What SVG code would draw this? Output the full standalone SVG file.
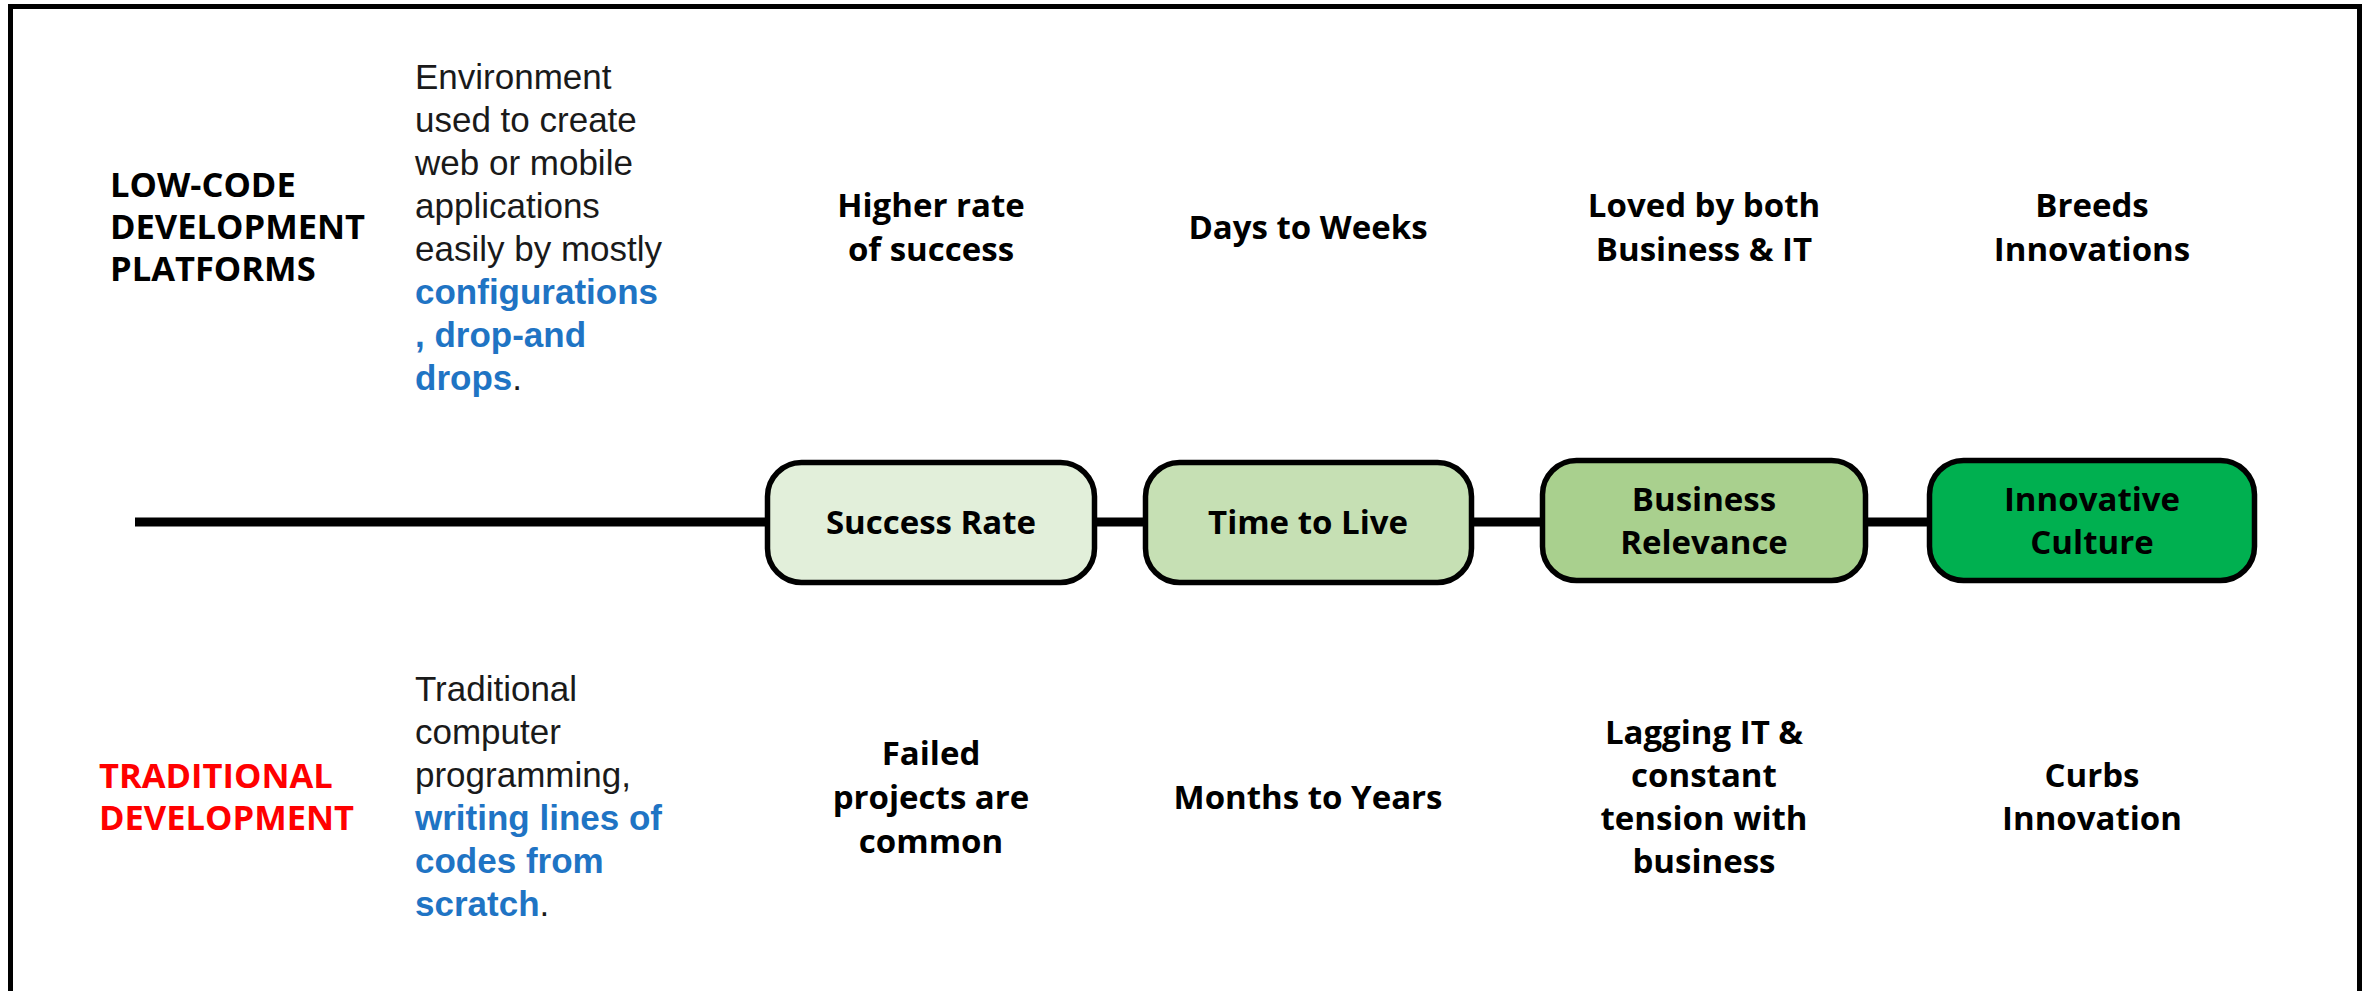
<svg xmlns="http://www.w3.org/2000/svg" width="2374" height="991" viewBox="0 0 2374 991">
  <style>
    .head { font-family: "Open Sans", "Liberation Sans", sans-serif; font-weight: 700; font-size: 34.5px; fill: #000; }
    .lbl { font-family: "Open Sans", "Liberation Sans", sans-serif; font-weight: 700; font-size: 33px; fill: #000; text-anchor: middle; }
    .desc { font-family: "Liberation Sans", Arial, sans-serif; font-size: 35px; fill: #1a1a1a; }
    .hl { fill: #1F74C4; font-weight: 700; }
    .stage { stroke: #000; stroke-width: 5.5; }
  </style>

  <!-- outer frame (open at the bottom edge) -->
  <rect x="10.5" y="6.5" width="2349" height="1010" fill="#fff" stroke="#000" stroke-width="5"/>

  <!-- timeline connectors -->
  <g id="connectors" stroke="#000" stroke-width="9" fill="none">
    <line x1="135" y1="522" x2="767" y2="522"/>
    <line x1="1095" y1="522" x2="1145" y2="522"/>
    <line x1="1471" y1="522" x2="1542" y2="522"/>
    <line x1="1866" y1="522" x2="1929" y2="522"/>
  </g>

  <!-- stages -->
  <g id="stage-success-rate">
    <rect class="stage" x="767.5" y="462.5" width="327" height="120" rx="34" fill="#E2EFDA"/>
    <text class="lbl" x="931" y="534">Success Rate</text>
  </g>
  <g id="stage-time-to-live">
    <rect class="stage" x="1145.5" y="462.5" width="326" height="120" rx="34" fill="#C6E0B4"/>
    <text class="lbl" x="1308" y="534">Time to Live</text>
  </g>
  <g id="stage-business-relevance">
    <rect class="stage" x="1542.5" y="460.5" width="323" height="120" rx="34" fill="#A9D08E"/>
    <text class="lbl" x="1704" y="511">Business</text>
    <text class="lbl" x="1704" y="554">Relevance</text>
  </g>
  <g id="stage-innovative-culture">
    <rect class="stage" x="1929.5" y="460.5" width="325" height="120" rx="34" fill="#00B050"/>
    <text class="lbl" x="2092" y="511">Innovative</text>
    <text class="lbl" x="2092" y="554">Culture</text>
  </g>

  <!-- low-code row -->
  <g id="lowcode-title">
    <text class="head" x="110" y="197">LOW-CODE</text>
    <text class="head" x="110" y="239">DEVELOPMENT</text>
    <text class="head" x="110" y="281">PLATFORMS</text>
  </g>
  <g id="lowcode-desc" class="desc">
    <text x="415" y="89">Environment</text>
    <text x="415" y="132">used to create</text>
    <text x="415" y="175">web or mobile</text>
    <text x="415" y="218">applications</text>
    <text x="415" y="261">easily by mostly</text>
    <text x="415" y="304"><tspan class="hl">configurations</tspan></text>
    <text x="415" y="347"><tspan class="hl">, drop-and</tspan></text>
    <text x="415" y="390"><tspan class="hl">drops</tspan>.</text>
  </g>
  <g id="lowcode-success">
    <text class="lbl" x="931" y="217">Higher rate</text>
    <text class="lbl" x="931" y="261">of success</text>
  </g>
  <g id="lowcode-time">
    <text class="lbl" x="1308" y="239">Days to Weeks</text>
  </g>
  <g id="lowcode-business">
    <text class="lbl" x="1704" y="217">Loved by both</text>
    <text class="lbl" x="1704" y="261">Business &amp; IT</text>
  </g>
  <g id="lowcode-culture">
    <text class="lbl" x="2092" y="217">Breeds</text>
    <text class="lbl" x="2092" y="261">Innovations</text>
  </g>

  <!-- traditional row -->
  <g id="traditional-title">
    <text class="head" x="99" y="788" style="fill:#FF0000">TRADITIONAL</text>
    <text class="head" x="99" y="830" style="fill:#FF0000">DEVELOPMENT</text>
  </g>
  <g id="traditional-desc" class="desc">
    <text x="415" y="701">Traditional</text>
    <text x="415" y="744">computer</text>
    <text x="415" y="787">programming,</text>
    <text x="415" y="830"><tspan class="hl">writing lines of</tspan></text>
    <text x="415" y="873"><tspan class="hl">codes from</tspan></text>
    <text x="415" y="916"><tspan class="hl">scratch</tspan>.</text>
  </g>
  <g id="traditional-success">
    <text class="lbl" x="931" y="765">Failed</text>
    <text class="lbl" x="931" y="809">projects are</text>
    <text class="lbl" x="931" y="853">common</text>
  </g>
  <g id="traditional-time">
    <text class="lbl" x="1308" y="809">Months to Years</text>
  </g>
  <g id="traditional-business">
    <text class="lbl" x="1704" y="744">Lagging IT &amp;</text>
    <text class="lbl" x="1704" y="787">constant</text>
    <text class="lbl" x="1704" y="830">tension with</text>
    <text class="lbl" x="1704" y="873">business</text>
  </g>
  <g id="traditional-culture">
    <text class="lbl" x="2092" y="787">Curbs</text>
    <text class="lbl" x="2092" y="830">Innovation</text>
  </g>
</svg>
